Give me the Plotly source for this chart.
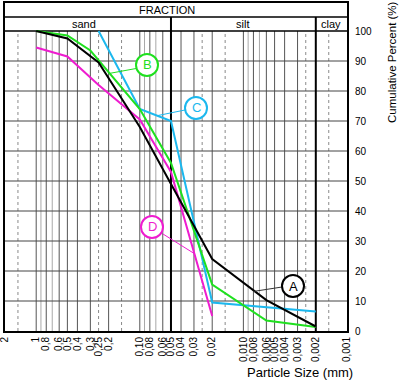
import numpy as np
import plotly.graph_objects as go

# ---------------- data ----------------
size_A = [1.0, 0.5, 0.25, 0.1, 0.05, 0.02, 0.006, 0.002]
pct_A = [100, 97.5, 89.5, 68, 49, 24, 10.3, 1.5]

size_B = [1.0, 0.5, 0.3, 0.1, 0.05, 0.02, 0.006, 0.002]
pct_B = [100, 98.5, 93.5, 74, 56, 15.5, 3.5, 1.3]

size_C = [0.25, 0.1, 0.05, 0.02, 0.002]
pct_C = [100, 74, 70, 9.5, 6.5]

size_D = [1.0, 0.5, 0.25, 0.1, 0.05, 0.02]
pct_D = [94.5, 91.5, 82, 70.5, 53, 5]

x_tick_vals = [2, 1, 0.8, 0.6, 0.5, 0.4, 0.3, 0.25, 0.2,
               0.1, 0.08, 0.06, 0.05, 0.04, 0.03, 0.02,
               0.01, 0.008, 0.006, 0.005, 0.004, 0.003, 0.002, 0.001]
x_tick_text = ["2", "1", "0,8", "0,6", "0,5", "0,4", "0,3", "0,25", "0,2",
               "0,10", "0,08", "0,06", "0,05", "0,04", "0,03", "0,02",
               "0,010", "0,008", "0,006", "0,005", "0,004", "0,003", "0,002", "0,001"]
y_tick_vals = [0, 10, 20, 30, 40, 50, 60, 70, 80, 90, 100]

grid_dark = [1, 0.8, 0.6, 0.5, 0.4, 0.3, 0.2, 0.1, 0.08, 0.06, 0.04, 0.03, 0.02,
             0.01, 0.008, 0.006, 0.005, 0.004, 0.003]
grid_light = [0.9, 0.7, 0.09, 0.07, 0.009, 0.007]
grid_dashed = [1.5, 0.25, 0.15, 0.025, 0.015, 0.0025, 0.0015]
fraction_bounds = [0.05, 0.002]
fraction_names = ["sand", "silt", "clay"]
h_grid = [10, 20, 30, 40, 50, 60, 70, 80, 90]

# ---------------- layout constants ----------------
W, H = 400, 385
L, R, T, B = 5, 53, 3, 54
PW, PH = W - L - R, H - T - B          # 342 x 328
Y_TOP = 100 * PH / 300.0               # 3 px per percent
Y_ROW = 100 + 14 / 3.0                 # header row separator
X_MAX, X_MIN = 2, 0.001

def px(x):
    return (x - L) / PW

def py(y):
    return (H - B - y) / PH

fig = go.Figure()

def vlines(vals, y0, y1):
    xs, ys = [], []
    for v in vals:
        xs += [v, v, None]
        ys += [y0, y1, None]
    return xs, ys

# grid lines
xs, ys = vlines(grid_light, 0, 100)
fig.add_trace(go.Scatter(x=xs, y=ys, mode="lines", line=dict(color="#a8a8a8", width=1),
                         hoverinfo="skip", showlegend=False))
xs, ys = vlines(grid_dashed, 0, 100)
fig.add_trace(go.Scatter(x=xs, y=ys, mode="lines", line=dict(color="#8a8a8a", width=1, dash="3px,3px"),
                         hoverinfo="skip", showlegend=False))
xs, ys = vlines(grid_dark, 0, 100)
fig.add_trace(go.Scatter(x=xs, y=ys, mode="lines", line=dict(color="#555555", width=1),
                         hoverinfo="skip", showlegend=False))
hx, hy = [], []
for v in h_grid:
    hx += [X_MAX, X_MIN, None]
    hy += [v, v, None]
fig.add_trace(go.Scatter(x=hx, y=hy, mode="lines", line=dict(color="#444444", width=1),
                         hoverinfo="skip", showlegend=False))
# header lines
fig.add_trace(go.Scatter(x=[X_MAX, X_MIN, None, X_MAX, X_MIN], y=[100, 100, None, Y_ROW, Y_ROW],
                         mode="lines", line=dict(color="#000000", width=1.5),
                         hoverinfo="skip", showlegend=False))
xs, ys = vlines(fraction_bounds, 0, Y_ROW)
fig.add_trace(go.Scatter(x=xs, y=ys, mode="lines", line=dict(color="#000000", width=2),
                         hoverinfo="skip", showlegend=False))

# data curves
GREEN, CYAN, MAGENTA, BLACK = "#1fe01f", "#1cb8ee", "#ee1ccf", "#000000"
for sx, sy, col in [(size_C, pct_C, CYAN), (size_B, pct_B, GREEN),
                    (size_D, pct_D, MAGENTA), (size_A, pct_A, BLACK)]:
    fig.add_trace(go.Scatter(x=sx, y=sy, mode="lines", line=dict(color=col, width=2),
                             hoverinfo="skip", showlegend=False))

# labels with circles
labels = [
    ("A", BLACK, (293, 286), ((282, 287), (253, 291.5)), "#333333"),
    ("B", GREEN, (147, 65), ((136, 68.5), (110, 73.3)), GREEN),
    ("C", CYAN, (196, 108), ((185, 110), (158, 115.5)), CYAN),
    ("D", MAGENTA, (152, 227), ((163, 234), (195, 254)), MAGENTA),
]
shapes = []
annotations = []
rr = 11
for txt, col, (cx, cy), ((lx0, ly0), (lx1, ly1)), lcol in labels:
    shapes.append(dict(type="line", xref="paper", yref="paper",
                       x0=px(lx0), y0=py(ly0), x1=px(lx1), y1=py(ly1),
                       line=dict(color=lcol, width=1), layer="above"))
    shapes.append(dict(type="circle", xref="paper", yref="paper",
                       x0=px(cx - rr), x1=px(cx + rr), y0=py(cy + rr), y1=py(cy - rr),
                       line=dict(color=col, width=2), fillcolor="white", layer="above"))
    annotations.append(dict(text=txt, xref="paper", yref="paper", x=px(cx), y=py(cy),
                            xanchor="center", yanchor="middle",
                            showarrow=False, font=dict(size=13, color=col)))

# header texts
annotations.append(dict(text="FRACTION", xref="paper", yref="paper", x=px(167), y=py(10),
                        xanchor="center", yanchor="middle",
                        showarrow=False, font=dict(size=11, color="#000")))
for name, xc in zip(fraction_names, [84, 242, 331]):
    annotations.append(dict(text=name, xref="paper", yref="paper", x=px(xc), y=py(24),
                            xanchor="center", yanchor="middle",
                            showarrow=False, font=dict(size=11, color="#000")))
# axis titles
annotations.append(dict(text="Particle Size (mm)", xref="paper", yref="paper",
                        x=px(300), y=py(372), xanchor="center", yanchor="middle",
                        showarrow=False, font=dict(size=13, color="#000")))
annotations.append(dict(text="Cumulative Percent (%)", xref="paper", yref="paper",
                        x=px(392), y=py(62), xanchor="center", yanchor="middle",
                        textangle=-90, showarrow=False,
                        font=dict(size=11.5, color="#000")))

fig.update_layout(
    width=W, height=H,
    margin=dict(l=L, r=R, t=T, b=B, pad=0, autoexpand=False),
    paper_bgcolor="white", plot_bgcolor="white",
    font=dict(family="Liberation Sans, Arial, sans-serif", color="#000"),
    shapes=shapes, annotations=annotations,
    hovermode=False,
    xaxis=dict(type="log", range=[np.log10(X_MAX) + 1e-4, np.log10(X_MIN) - 1e-4],
               tickmode="array", tickvals=x_tick_vals, ticktext=x_tick_text,
               tickangle=-90, tickfont=dict(size=10), showgrid=False, zeroline=False,
               showline=True, linecolor="#000", linewidth=2, mirror=True,
               ticks="", fixedrange=True, automargin=False, ticklabeloverflow="allow"),
    yaxis=dict(range=[0, Y_TOP], side="right", tickmode="array", tickvals=y_tick_vals,
               tickfont=dict(size=10), showgrid=False, zeroline=False,
               showline=True, linecolor="#000", linewidth=2, mirror=True,
               ticks="outside", ticklen=4, tickcolor="rgba(0,0,0,0)", fixedrange=True,
               automargin=False),
)

fig.write_html("out.html", config={"displayModeBar": False},
               post_script="document.body.style.margin='0';document.body.style.overflow='hidden';")
